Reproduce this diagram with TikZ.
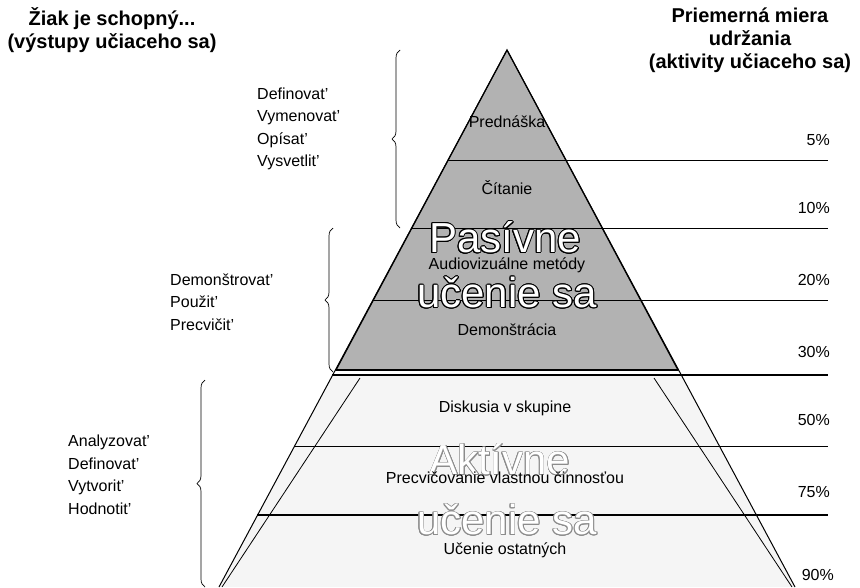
\documentclass[tikz,border=0pt]{standalone}
\usepackage{fontspec}
\setmainfont{Liberation Sans}
\usepackage[copies]{contour}
\usetikzlibrary{decorations.pathreplacing}

\begin{document}
\begin{tikzpicture}[x=1pt,y=-1pt,
		layertext/.style={font=\fontsize{16}{20}\selectfont, inner sep=0pt},
		headtext/.style={font=\fontsize{20}{23}\selectfont\bfseries, inner sep=0pt, align=center},
		verbtext/.style={font=\fontsize{16}{22.5}\selectfont, inner sep=0pt, align=left, anchor=west},
		pcttext/.style={font=\fontsize{16}{20}\selectfont, inner sep=0pt, anchor=east},
		bigword/.style={font=\fontsize{42}{42}\selectfont, inner sep=0pt},
		level/.style={line width=0.7pt},
		bracket/.style={decorate, decoration={brace, amplitude=8pt, aspect=0.5}, line width=0.7pt}]
		%%%%% START %%%%%
		
		\useasboundingbox[fill=white] (0,0) rectangle (860,587);
		
		\coordinate (apex) at (507,50);
		\coordinate (gl) at (336,370);
		\coordinate (gr) at (678,370);
		\coordinate (bl) at (219,587);
		\coordinate (br) at (795,587);
		
		% lower part and grey top
		\fill[color=black!4] (332,375) -- (682,375) -- (br) -- (bl) -- cycle;
		\draw[line width=1.2pt, fill=black!30] (apex) -- (gl) -- (gr) -- cycle;
		
		% levels
		\draw[level] (448,160) -- (828,160);
		\draw[level] (411,228) -- (828,228);
		\draw[level] (373,300) -- (828,300);
		\draw[line width=1.3pt] (332,375) -- (828,375);
		\draw[level] (294,446) -- (828,446);
		\draw[line width=1.5pt] (257,515) -- (828,515);
		
		% sides
		\draw[line width=1pt] (apex) -- (bl);
		\draw[line width=1pt] (apex) -- (br);
		\draw[line width=0.8pt] (360,378) -- (222,587);
		\draw[line width=0.8pt] (654,378) -- (792,587);
		\draw[line width=1.8pt] (gl) -- (gr);
		
		% big words
		\node[bigword] (pas1) at (505,238) {\contourlength{0.9pt}\contour{black}{\textcolor{white}{Pasívne}}};
		\node[bigword] (pas2) at (507,293) {\contourlength{0.9pt}\contour{black}{\textcolor{white}{učenie sa}}};
		\node[bigword] (akt1) at (500,460) {\contourlength{0.6pt}\contour{black!45}{\textcolor{white}{Aktívne}}};
		\node[bigword] (akt2) at (507,520) {\contourlength{0.6pt}\contour{black!45}{\textcolor{white}{učenie sa}}};
		
		% layers
		\node[layertext] (l1) at (507,122) {Prednáška};
		\node[layertext] (l2) at (507,188) {Čítanie};
		\node[layertext] (l3) at (507,265) {Audiovizuálne metódy};
		\node[layertext] (l4) at (507,330) {Demonštrácia};
		\node[layertext] (l5) at (505,408) {Diskusia v skupine};
		\node[layertext] (l6) at (505,478) {Precvičovanie vlastnou činnosťou};
		\node[layertext] (l7) at (505,550) {Učenie ostatných};
		
		% percents
		\node[pcttext] (p1) at (830,140) {5\%};
		\node[pcttext] (p2) at (830,208) {10\%};
		\node[pcttext] (p3) at (830,280) {20\%};
		\node[pcttext] (p4) at (830,352) {30\%};
		\node[pcttext] (p5) at (830,420) {50\%};
		\node[pcttext] (p6) at (830,492) {75\%};
		\node[pcttext] (p7) at (834,575) {90\%};
		
		% headings
		\node[headtext] (h1) at (112,30) {Žiak je schopný...\\(výstupy učiaceho sa)};
		\node[headtext] (h2) at (750,40) {Priemerná miera\\udržania\\(aktivity učiaceho sa)};
		
		% verbs and braces
		\node[verbtext] (v1) at (257,129) {Definovat'\\Vymenovat'\\Opísat'\\Vysvetlit'};
		\draw[bracket] (400,228) -- (400,50);
		\node[verbtext] (v2) at (170,302) {Demonštrovat'\\Použit'\\Precvičit'};
		\draw[bracket] (333,372) -- (333,228);
		\node[verbtext] (v3) at (68,475) {Analyzovat'\\Definovat'\\Vytvorit'\\Hodnotit'};
		\draw[bracket] (205,587) -- (205,380);
		
		%%%%% END %%%%%
	\end{tikzpicture}
\end{document}
